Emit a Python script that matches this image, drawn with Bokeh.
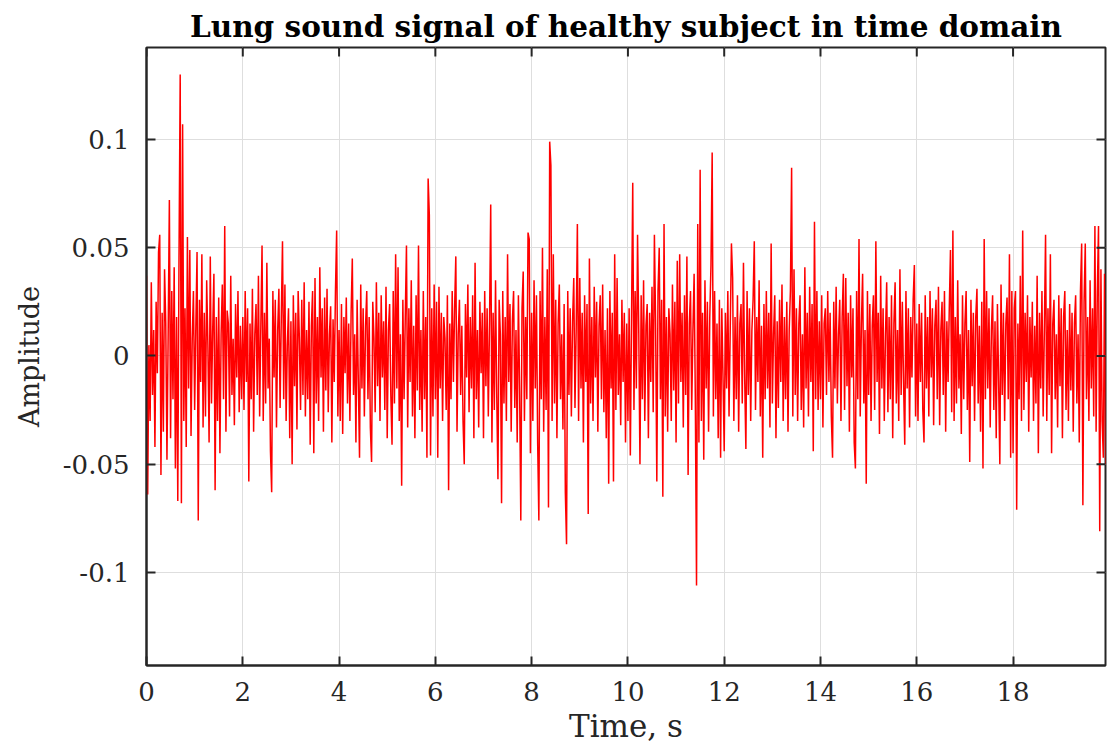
import numpy as np
from bokeh.plotting import figure
from bokeh.models import FixedTicker, Range1d
from bokeh.embed import file_html
from bokeh.resources import INLINE

# ---------------- data (amplitude, in units of 1e-3) ----------------
SAMPLE_STEP_S = 0.025

seg_00_02 = [37, -64, 5, -30, 34, -18, 12, -42, 25, -8, 48, 56, -55, 20, -35, 40, 15, -48, 10, 72,
             -38, 30, -20, 41, -52, 18, -67, 45, 130, -68, 107, -30, 22, -42, 55, -15, 49, -37, 8, 30,
             -25, 14, 48, -76, 26, -12, 47, -33, 20, -28, 35, 5, -40, 46, -22, 12, 38, -62, 18, -30,
             27, -45, 10, 33, -20, 60, -35, 21, 15, -28, 37, -18, 8, -32, 24, -10, 30, -26, 14, -20]
seg_02_04 = [18, -25, 30, -12, 22, -58, 15, -20, 31, -35, 10, 24, -18, 37, -28, 14, 51, -30, 20, -22,
             43, -15, 8, -44, -63, 30, -10, 26, -33, 12, 31, -24, 18, 53, -20, 33, -30, 5, 22, -38,
             16, -50, 28, -14, 20, -34, 30, 8, -25, 26, -18, 34, -28, 12, -20, 25, -41, 14, 30, -45,
             36, -22, 18, -30, 41, -10, 22, -35, 27, -16, 31, -26, 10, 23, -40, 17, -12, 30, 58, -28]
seg_04_06 = [12, -30, 24, -36, 18, -8, 27, -22, 15, -30, 20, 45, -18, 10, -40, 26, -12, -47, 33, -15,
             22, -28, 14, 30, -20, 18, -33, -49, 25, 8, -26, 34, -14, 20, -30, 28, -10, 16, -25, 32,
             -38, 12, 24, -18, -41, 30, -22, 47, -15, 41, -30, 10, -60, 26, -20, 18, 51, -33, 22, -12,
             35, -28, 14, -38, 28, -16, 51, -25, 12, -35, 30, -20, 18, -47, 82, 65, -46, 22, -28, 33]
seg_06_08 = [-20, 25, -47, 32, -15, 20, -30, 18, 8, -25, 28, -62, 15, -20, 30, -12, 22, 46, -35, 10,
             26, -18, 14, -30, -50, 24, -10, 33, -26, 18, -15, 28, -38, 43, -20, 12, -33, 25, -8, 20,
             -38, 30, -14, 22, -28, 15, 70, -40, 20, -25, 35, -18, -57, 26, 10, -68, 30, -22, 18, -30,
             47, -12, 24, -35, 16, 30, -24, 12, -40, 28, -15, -76, 22, 39, -30, 18, -20, 57, 54, -45]
seg_08_10 = [20, -30, 35, -15, 28, -40, -76, 30, -20, 50, -35, 18, -25, 40, -70, 99, 88, -30, 47, -22,
             26, -38, 15, 33, -20, 10, -34, 24, -63, -87, 30, -18, 22, -28, 16, 36, -24, 12, 61, -30,
             36, -15, 20, -40, 28, -12, 24, -73, 45, -22, 18, -30, 32, -10, 25, -35, 14, 28, -20, 33,
             -26, 12, -38, 22, -59, 30, -15, 20, -58, 47, -25, 36, -18, 10, -32, 26, -12, 20, -40, 15]
seg_10_12 = [-30, 22, -46, 18, 80, -25, 30, -15, 56, 12, -50, 28, -20, 35, -30, 14, 24, -38, 20, -12,
             32, -26, 56, 15, -58, 30, 50, -20, 26, -65, 61, -28, 18, -35, 22, 10, -30, 33, -16, 25,
             -40, 44, -22, 47, -12, 20, -33, 28, -18, 46, -55, 15, 30, -25, 12, 38, -20, -106, 61, -40,
             86, -30, 20, -48, 35, -15, 25, -35, 18, 42, 94, -28, 30, -20, 15, -38, 26, -47, 22, -10]
seg_12_14 = [-44, 20, -15, 30, -28, 12, 52, 36, -30, 18, -20, 28, -35, 15, 24, -22, 43, -10, -43, 30,
             -18, 22, -30, 12, 26, 53, -25, 18, -12, 35, -28, 14, -47, 24, -20, 30, -15, 20, -33, 52,
             -22, 10, 28, -38, 16, -24, 26, -12, 33, -30, 18, -20, 25, -35, 12, 30, 87, -28, 40, -18,
             22, -30, 15, 28, -25, 10, -33, 41, -15, 20, -28, 32, -12, 24, -44, 62, -20, 30, -25, 16]
seg_14_16 = [-20, 28, -33, 15, 22, -18, 30, -12, 20, -28, -47, 25, -15, 32, -22, 10, 26, -30, 18, 38,
             -25, 36, -14, 20, -35, 28, -10, 22, -40, -52, 30, -20, 54, -28, 15, 38, -22, 12, -59, 30,
             -18, 24, -30, 14, 28, -25, 53, -12, 20, -36, 37, -15, 22, -30, 10, 34, -26, 18, -20, 28,
             -38, 15, 34, -22, 12, -30, 40, -18, 25, -12, -41, 30, -15, 22, -33, 18, -10, 26, 42, -28]
seg_16_18 = [15, -30, 24, -12, 20, -25, -40, 28, -15, 18, -28, 30, -10, 22, -32, 14, 26, -20, 32, -32,
             12, 25, -18, 30, -35, 16, -12, 22, 49, -26, 58, -30, 18, -22, 35, -15, 10, -36, 28, -20,
             15, 30, -25, 12, -49, 26, -14, 20, -30, 18, 31, -22, 14, -35, 25, -52, 54, -20, 30, -15,
             22, -33, 12, 28, -25, 16, -38, 24, -12, -50, 33, -18, 20, -30, 15, 27, -20, 47, -47, 30]
seg_18_20 = [-45, 22, 30, -71, 15, -20, 37, -30, 58, -25, 20, -12, 28, -35, 18, -10, 25, -30, 14, -22,
             37, -45, 20, -15, 30, -28, 12, 56, -30, 22, -18, 47, -45, 15, 26, -20, 10, -33, 28, -14,
             22, -38, 18, 30, -25, 12, -30, 24, -16, 20, -35, 15, 28, -22, 10, -40, 30, 52, -69, 25,
             52, -20, 18, -30, 35, -15, 22, -28, 60, -35, 30, 60, -81, 40, -30, -47, 38, -50, 20, -10]

x_ticks = [0, 2, 4, 6, 8, 10, 12, 14, 16, 18]
x_tick_labels = ["0", "2", "4", "6", "8", "10", "12", "14", "16", "18"]
y_ticks = [-0.1, -0.05, 0, 0.05, 0.1]
y_tick_labels = ["-0.1", "-0.05", "0", "0.05", "0.1"]

amp_milli = (seg_00_02 + seg_02_04 + seg_04_06 + seg_06_08 + seg_08_10 +
             seg_10_12 + seg_12_14 + seg_14_16 + seg_16_18 + seg_18_20)
amplitude = np.array(amp_milli, dtype=float) / 1000.0
time_s = np.arange(len(amplitude)) * SAMPLE_STEP_S

X_START, X_END = 0, 19.92
Y_START, Y_END = -0.143, 0.1425

# ---------------- figure ----------------
FONT = "DejaVu Serif"
AX = "#262626"

p = figure(width=1107, height=750, output_backend="svg", toolbar_location=None,
           x_range=Range1d(X_START, X_END), y_range=Range1d(Y_START, Y_END),
           min_border_left=146, min_border_right=2, min_border_top=47, min_border_bottom=85,
           background_fill_color="white", border_fill_color="white")

p.title.text = "Lung sound signal of healthy subject in time domain"
p.title.text_font = FONT
p.title.text_font_style = "bold"
p.title.text_font_size = "29.5px"
p.title.text_color = "black"
p.title.align = "center"
p.title.standoff = 7

p.outline_line_color = AX
p.outline_line_width = 2
p.outline_line_alpha = 1

p.xgrid.ticker = FixedTicker(ticks=x_ticks)
p.ygrid.ticker = FixedTicker(ticks=y_ticks)
for g in (p.xgrid[0], p.ygrid[0]):
    g.grid_line_color = "#dedede"
    g.grid_line_width = 1
    g.grid_line_alpha = 1

p.line(time_s, amplitude, line_color="#ff0000", line_width=1.5)

# inward ticks on the top and right edges of the box (MATLAB style)
p.ray(x=x_ticks, y=[Y_END] * len(x_ticks), length=9, length_units="screen",
      angle=-np.pi / 2, line_color=AX, line_width=2)
p.ray(x=[X_END] * len(y_ticks), y=y_ticks, length=9, length_units="screen",
      angle=np.pi, line_color=AX, line_width=2)


def style_axis(ax, ticks, labels):
    ax.ticker = FixedTicker(ticks=ticks)
    ax.major_label_overrides = labels
    ax.axis_line_color = AX
    ax.axis_line_width = 2
    ax.major_tick_line_color = AX
    ax.major_tick_line_width = 2
    ax.major_tick_in = 9
    ax.major_tick_out = 0
    ax.minor_tick_line_color = None
    ax.major_label_text_font = FONT
    ax.major_label_text_font_size = "26px"
    ax.major_label_text_color = AX
    ax.axis_label_text_font = FONT
    ax.axis_label_text_font_style = "normal"
    ax.axis_label_text_color = AX


xa = p.xaxis[0]
ya = p.yaxis[0]
style_axis(xa, x_ticks, dict(zip(x_ticks, x_tick_labels)))
style_axis(ya, y_ticks, dict(zip(y_ticks, y_tick_labels)))
xa.axis_label = "Time, s"
xa.axis_label_text_font_size = "31px"
xa.major_label_standoff = 16
xa.axis_label_standoff = 4
ya.axis_label = "Amplitude"
ya.axis_label_text_font_size = "27px"
ya.major_label_standoff = 17
ya.axis_label_standoff = 15

open("out.html", "w").write(file_html(p, INLINE))
